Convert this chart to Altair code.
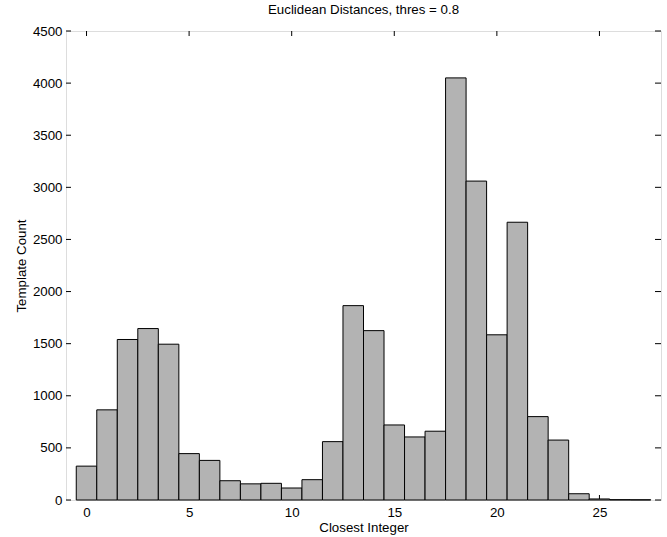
import altair as alt
import pandas as pd

bins = list(range(0, 28))
counts = [325, 865, 1540, 1645, 1495, 445, 380, 185, 155, 160, 115, 195, 560,
          1865, 1625, 720, 605, 660, 4050, 3060, 1585, 2665, 800, 575, 60, 10, 3, 2]
x_ticks = [0, 5, 10, 15, 20, 25]
y_ticks = [0, 500, 1000, 1500, 2000, 2500, 3000, 3500, 4000, 4500]

W, H = 595, 469
FONT = "Liberation Sans"
FS = 13.3

df = pd.DataFrame({"bin": bins, "count": counts})
xt = pd.DataFrame({"t": x_ticks})
yt = pd.DataFrame({"t": y_ticks})

xscale = alt.Scale(domain=[-1, 28], nice=False, zero=False)
yscale = alt.Scale(domain=[0, 4500], nice=False)

bars = alt.Chart(df).transform_calculate(
    lo="datum.bin - 0.5", hi="datum.bin + 0.5"
).mark_bar(color="#b3b3b3", stroke="black", strokeWidth=1).encode(
    x=alt.X("lo:Q", scale=xscale,
            axis=alt.Axis(values=x_ticks, title="Closest Integer", grid=False,
                          ticks=False, domain=False, labelPadding=5,
                          titlePadding=2, labelFontSize=FS, titleFontSize=FS,
                          titleFontWeight="normal", labelFont=FONT, titleFont=FONT,
                          labelColor="black", titleColor="black", format="d")),
    x2="hi:Q",
    y=alt.Y("count:Q", scale=yscale,
            axis=alt.Axis(values=y_ticks, title="Template Count", grid=False,
                          ticks=False, domain=False, labelPadding=4,
                          titlePadding=4, labelFontSize=FS, titleFontSize=FS,
                          titleFontWeight="normal", labelFont=FONT, titleFont=FONT,
                          labelColor="black", titleColor="black", format="d")),
    y2=alt.datum(0),
)

tb = alt.Chart(xt).mark_rule(color="black").encode(
    x=alt.X("t:Q", scale=xscale), y=alt.value(H), y2=alt.value(H - 5))
tt = alt.Chart(xt).mark_rule(color="black").encode(
    x=alt.X("t:Q", scale=xscale), y=alt.value(0), y2=alt.value(5))
yl = alt.Chart(yt).mark_rule(color="black").encode(
    y=alt.Y("t:Q", scale=yscale), x=alt.value(0), x2=alt.value(5))
yr = alt.Chart(yt).mark_rule(color="black").encode(
    y=alt.Y("t:Q", scale=yscale), x=alt.value(W), x2=alt.value(W - 6))

chart = alt.layer(tb, tt, yl, yr, bars).properties(
    width=W, height=H,
    title=alt.TitleParams("Euclidean Distances, thres = 0.8", fontSize=FS,
                          font=FONT, fontWeight="normal", color="black",
                          offset=8, anchor="middle"),
    autosize=alt.AutoSizeParams(type="none"),
    padding={"left": 66, "top": 31, "right": 6, "bottom": 37},
).configure_view(stroke="black", strokeWidth=1.2).configure(background="white")

chart.save("out.html", embed_options={"renderer": "svg", "actions": False})
